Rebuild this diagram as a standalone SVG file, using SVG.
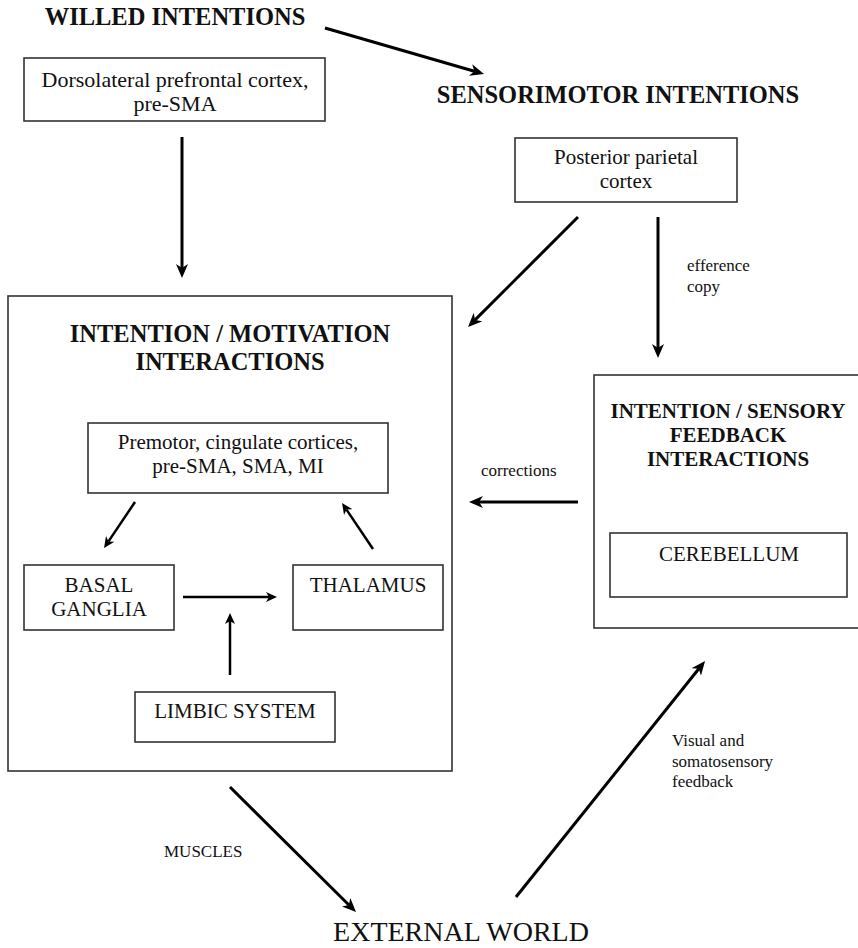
<svg xmlns="http://www.w3.org/2000/svg" width="858" height="948" viewBox="0 0 858 948">
<style>
  .box { fill: none; stroke: #333; stroke-width: 1.6; }
  .t { font-family: "Liberation Serif", "Times New Roman", serif; fill: #111; }
  .h { font-weight: bold; font-size: 24.5px; }
  .h2 { font-weight: bold; font-size: 21px; }
  .n { font-size: 21px; }
  .s { font-size: 17px; }
  .c { text-anchor: middle; }
  .big { stroke: #000; stroke-width: 3; fill: none; }
  .small { stroke: #000; stroke-width: 2.5; fill: none; }
</style>
<defs>
  <marker id="arr" viewBox="0 0 14 12" refX="4" refY="6" markerWidth="14" markerHeight="12" markerUnits="userSpaceOnUse" orient="auto">
    <path d="M0,0 L14,6 L0,12 L4,6 z" fill="#000"/>
  </marker>
  <marker id="arrS" viewBox="0 0 11 10" refX="3" refY="5" markerWidth="11" markerHeight="10" markerUnits="userSpaceOnUse" orient="auto">
    <path d="M0,0 L11,5 L0,10 L3,5 z" fill="#000"/>
  </marker>
</defs>

<g id="willed">
  <text class="t h c" x="175" y="25">WILLED INTENTIONS</text>
</g>
<g id="sensorimotor">
  <text class="t h c" x="618" y="103">SENSORIMOTOR INTENTIONS</text>
</g>
<g id="dlpfc">
  <rect class="box" x="24" y="58" width="301" height="63"/>
  <text class="t c" x="175" y="87" font-size="22">Dorsolateral prefrontal cortex,</text>
  <text class="t c" x="175" y="111" font-size="22">pre-SMA</text>
</g>
<g id="ppc">
  <rect class="box" x="515" y="138" width="222" height="64"/>
  <text class="t n c" x="626" y="164">Posterior parietal</text>
  <text class="t n c" x="626" y="188">cortex</text>
</g>
<g id="intention-motivation">
  <rect class="box" x="8" y="296" width="444" height="475"/>
  <text class="t h c" x="230" y="342">INTENTION / MOTIVATION</text>
  <text class="t h c" x="230" y="370">INTERACTIONS</text>
</g>
<g id="premotor">
  <rect class="box" x="88" y="423" width="300" height="70"/>
  <text class="t n c" x="238" y="449">Premotor, cingulate cortices,</text>
  <text class="t n c" x="238" y="473">pre-SMA, SMA, MI</text>
</g>
<g id="basal-ganglia">
  <rect class="box" x="24" y="565" width="150" height="65"/>
  <text class="t n c" x="99" y="592">BASAL</text>
  <text class="t n c" x="99" y="616">GANGLIA</text>
</g>
<g id="thalamus">
  <rect class="box" x="293" y="565" width="150" height="65"/>
  <text class="t n c" x="368" y="592">THALAMUS</text>
</g>
<g id="limbic">
  <rect class="box" x="135" y="692" width="200" height="50"/>
  <text class="t n c" x="235" y="718">LIMBIC SYSTEM</text>
</g>
<g id="intention-sensory">
  <rect class="box" x="594" y="375" width="300" height="253"/>
  <text class="t h2 c" x="728" y="418">INTENTION / SENSORY</text>
  <text class="t h2 c" x="728" y="442">FEEDBACK</text>
  <text class="t h2 c" x="728" y="466">INTERACTIONS</text>
</g>
<g id="cerebellum">
  <rect class="box" x="610" y="533" width="237" height="64"/>
  <text class="t n c" x="729" y="561">CEREBELLUM</text>
</g>
<g id="external-world">
  <text class="t c" x="461" y="941" font-size="28">EXTERNAL WORLD</text>
</g>

<g id="connectors">
  <line class="big" x1="325" y1="28" x2="474.4" y2="71.2" marker-end="url(#arr)"/>
  <line class="big" x1="182" y1="137" x2="182" y2="268" marker-end="url(#arr)"/>
  <line class="big" x1="578" y1="217" x2="475.1" y2="319.9" marker-end="url(#arr)"/>
  <line class="big" x1="658" y1="217" x2="658" y2="348" marker-end="url(#arr)"/>
  <line class="big" x1="578" y1="502" x2="479" y2="502" marker-end="url(#arr)"/>
  <line class="small" x1="135" y1="502" x2="108.5" y2="541.4" marker-end="url(#arrS)"/>
  <line class="small" x1="373" y1="549" x2="346.5" y2="509.6" marker-end="url(#arrS)"/>
  <line class="small" x1="183" y1="597" x2="269" y2="597" marker-end="url(#arrS)"/>
  <line class="small" x1="230" y1="675" x2="230" y2="621" marker-end="url(#arrS)"/>
  <line class="big" x1="230" y1="787" x2="348.9" y2="905" marker-end="url(#arr)"/>
  <line class="big" x1="516" y1="897" x2="698.8" y2="668.8" marker-end="url(#arr)"/>
  <text class="t s" x="687" y="271">efference</text>
  <text class="t s" x="687" y="292">copy</text>
  <text class="t s" x="481" y="476">corrections</text>
  <text class="t s" x="164" y="857">MUSCLES</text>
  <text class="t s" x="672" y="746">Visual and</text>
  <text class="t s" x="672" y="767">somatosensory</text>
  <text class="t s" x="672" y="787">feedback</text>
</g>
</svg>
